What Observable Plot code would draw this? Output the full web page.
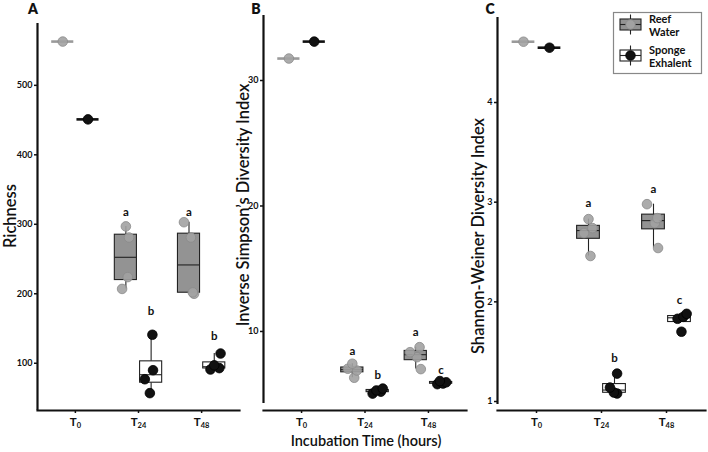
<!DOCTYPE html>
<html><head><meta charset="utf-8">
<script src="https://cdn.jsdelivr.net/npm/d3@7"></script>
<script src="https://cdn.jsdelivr.net/npm/@observablehq/plot@0.6"></script>
<style>
body{margin:0;background:#fff;}
#wrap{position:relative;width:708px;height:452px;font-family:Lato,"Open Sans",sans-serif;overflow:hidden;}
.panel{position:absolute;top:0;}
#xtitle{position:absolute;left:236px;width:260px;top:432px;text-align:center;font:600 14.5px Lato,"Open Sans",sans-serif;color:#111;line-height:17px;}
</style></head><body><div id="wrap"></div>
<script>
// ---------- categories ----------
const timeLabels = ["T0", "T24", "T48"];
const timeSubscripts = ["0", "24", "48"];
const groupNames = ["Reef Water", "Sponge Exhalent"];

// ---------- A: Richness ----------
const richnessReef   = [[563], [207, 224, 281, 297], [200, 202, 281, 303]];
const richnessSponge = [[451], [57, 77, 90, 141], [91, 93, 97, 114]];
const richnessReefJitter   = [[0], [-0.06, 0.03, 0.05, 0], [0.08, 0.06, 0.03, -0.08]];
const richnessSpongeJitter = [[0], [-0.02, -0.1, 0.03, 0.02], [-0.06, 0.08, 0, 0.1]];
const richnessReefLetters   = ["", "a", "a"];
const richnessReefLetterY   = [null, 317, 317];
const richnessSpongeLetters = ["", "b", "b"];
const richnessSpongeLetterY = [null, 175, 139];
const richnessTicks = [100, 200, 300, 400, 500];
const richnessDomain = [32, 589];

// ---------- B: Inverse Simpson ----------
const invSimpsonReef   = [[31.75], [6.31, 6.89, 7.03, 7.43], [7.0, 7.95, 8.35, 8.75]];
const invSimpsonSponge = [[33.1], [5.05, 5.2, 5.3, 5.45], [5.8, 5.85, 5.95, 6.05]];
const invSimpsonReefJitter   = [[0], [0.03, 0.07, -0.07, 0], [0.08, 0.02, -0.09, 0.06]];
const invSimpsonSpongeJitter = [[0], [-0.08, 0.05, -0.02, 0.08], [-0.06, 0.03, 0.08, -0.02]];
const invSimpsonReefLetters   = ["", "a", "a"];
const invSimpsonReefLetterY   = [null, 8.4, 9.95];
const invSimpsonSpongeLetters = ["", "b", "c"];
const invSimpsonSpongeLetterY = [null, 6.5, 6.9];
const invSimpsonTicks = [10, 20, 30];
const invSimpsonDomain = [4.26, 35.18];

// ---------- C: Shannon-Weiner ----------
const shannonReef   = [[4.61], [2.46, 2.69, 2.74, 2.83], [2.54, 2.79, 2.84, 2.98]];
const shannonSponge = [[4.55], [1.08, 1.09, 1.14, 1.28], [1.70, 1.83, 1.85, 1.88]];
const shannonReefJitter   = [[0], [0.03, -0.07, 0.06, 0], [0.07, 0.02, 0.06, -0.1]];
const shannonSpongeJitter = [[0], [0.04, -0.01, -0.07, 0.04], [0.03, -0.03, 0.06, 0.11]];
const shannonReefLetters   = ["", "a", "a"];
const shannonReefLetterY   = [null, 2.99, 3.13];
const shannonSpongeLetters = ["", "b", "c"];
const shannonSpongeLetterY = [null, 1.43, 2.02];
const shannonTicks = [1, 2, 3, 4];
const shannonDomain = [0.97, 4.853];

// ---------- styles ----------
const REEF_BOX = "#939393", REEF_PT = "#a2a2a2", REEF_PT_STROKE = "#8a8a8a";
const SPONGE_BOX = "#ffffff", SPONGE_PT = "#111111";
const DODGE = 0.2, HALF = 0.175;
const FONT = "Lato, 'Open Sans', sans-serif";

function build(reef, sponge, reefJit, spongeJit, rL, rLY, sL, sLY) {
  const pts = [], boxes = [], letters = [];
  [[reef, reefJit, rL, rLY, 0], [sponge, spongeJit, sL, sLY, 1]].forEach(([arr, jit, L, LY, gi]) => {
    arr.forEach((vals, ti) => {
      const cx = ti + 1 + (gi === 0 ? -DODGE : DODGE);
      vals.forEach((v, k) => pts.push({g: gi, x: cx + jit[ti][k], v}));
      const s = vals.slice().sort(d3.ascending);
      const q1 = d3.quantile(s, 0.25), med = d3.quantile(s, 0.5), q3 = d3.quantile(s, 0.75);
      const iqr = q3 - q1;
      const lo = d3.min(s.filter(v => v >= q1 - 1.5 * iqr));
      const hi = d3.max(s.filter(v => v <= q3 + 1.5 * iqr));
      boxes.push({g: gi, x: cx, x1: cx - HALF, x2: cx + HALF, q1, med, q3, lo, hi, n: s.length});
      if (L[ti]) letters.push({x: cx, y: LY[ti], t: L[ti]});
    });
  });
  return {pts, boxes, letters};
}

function makePanel(o) {
  const {pts, boxes, letters} = build(...o.data);
  const multi = boxes.filter(b => b.n > 1), single = boxes.filter(b => b.n === 1);
  const svg = Plot.plot({
    width: o.width, height: 452,
    marginLeft: o.ml, marginRight: o.mr, marginTop: 0, marginBottom: 42,
    style: {fontFamily: FONT, color: "#111", background: "transparent", overflow: "visible"},
    x: {domain: [0.4, 3.6], axis: null},
    y: {domain: o.domain, range: o.yrange, axis: null},
    color: {type: "identity"},
    marks: [
      Plot.ruleX(multi, {x: "x", y1: "lo", y2: "q1", stroke: "#222", strokeWidth: 1.1}),
      Plot.ruleX(multi, {x: "x", y1: "q3", y2: "hi", stroke: "#222", strokeWidth: 1.1}),
      Plot.rect(multi, {x1: "x1", x2: "x2", y1: "q1", y2: "q3", fill: d => d.g === 0 ? REEF_BOX : SPONGE_BOX, stroke: "#222", strokeWidth: 1.1}),
      Plot.ruleY(multi, {x1: "x1", x2: "x2", y: "med", stroke: "#222", strokeWidth: 1.1}),
      Plot.ruleY(single, {x1: "x1", x2: "x2", y: "med", stroke: d => d.g === 0 ? "#9a9a9a" : "#111", strokeWidth: 2.6}),
      Plot.dot(pts, {x: "x", y: "v", r: 4.8, fill: d => d.g === 0 ? REEF_PT : SPONGE_PT,
        stroke: d => d.g === 0 ? REEF_PT_STROKE : "#000", strokeWidth: 0.8, fillOpacity: d => d.g === 0 ? 0.9 : 1}),
      Plot.text(letters, {x: "x", y: "y", text: "t", fontWeight: "bold", fontSize: 11.5, fill: "#111"}),
      Plot.ruleX([0.4], {y1: o.domain[0], y2: o.domain[1], strokeWidth: 2.2, stroke: "#111"}),
      Plot.frame({anchor: "bottom", strokeWidth: 2.2, stroke: "#111"}),
      Plot.axisY({ticks: o.ticks, tickFormat: d3.format("d"), tickSize: 3, tickPadding: 2, fontSize: 9, fontWeight: "bold", label: null, strokeWidth: 1.5}),
      Plot.axisX({ticks: [1, 2, 3], tickFormat: i => timeLabels[i - 1], tickSize: 3, tickPadding: 4, fontSize: 11.5, fontWeight: "bold", label: null, strokeWidth: 1.5})
    ]
  });
  // subscript tick labels
  d3.select(svg).selectAll('g[aria-label="x-axis tick label"] text').each(function() {
    const t = d3.select(this);
    const idx = timeLabels.indexOf(t.text());
    t.text(null);
    t.append("tspan").text("T");
    t.append("tspan").attr("dy", "0.3em").attr("font-size", 7.5).text(timeSubscripts[idx]);
  });
  const s = d3.select(svg);
  s.append("text").attr("transform", `translate(${o.titleX},${o.titleY}) rotate(-90)`)
    .attr("text-anchor", "middle")
    .attr("font-family", FONT).attr("font-weight", 600).attr("font-size", 16.5).attr("fill", "#111")
    .text(o.title);
  s.append("text").attr("x", o.letterX).attr("y", 8).attr("text-anchor", "middle").attr("dominant-baseline", "central")
    .attr("font-family", FONT).attr("font-weight", 800).attr("font-size", 14).attr("fill", "#111").text(o.letter);
  const div = document.createElement("div");
  div.className = "panel";
  div.style.left = o.left + "px";
  div.style.width = o.width + "px";
  div.appendChild(svg);
  return div;
}

const wrap = document.getElementById("wrap");
wrap.appendChild(makePanel({
  left: 0, width: 242, ml: 37, mr: 3, yrange: [410, 23], domain: richnessDomain, ticks: richnessTicks,
  data: [richnessReef, richnessSponge, richnessReefJitter, richnessSpongeJitter, richnessReefLetters, richnessReefLetterY, richnessSpongeLetters, richnessSpongeLetterY],
  title: "Richness", titleX: 16, titleY: 216, letter: "A", letterX: 33
}));
wrap.appendChild(makePanel({
  left: 236, width: 236, ml: 27, mr: 6, yrange: [403, 15], domain: invSimpsonDomain, ticks: invSimpsonTicks,
  data: [invSimpsonReef, invSimpsonSponge, invSimpsonReefJitter, invSimpsonSpongeJitter, invSimpsonReefLetters, invSimpsonReefLetterY, invSimpsonSpongeLetters, invSimpsonSpongeLetterY],
  title: "Inverse Simpson\u2019s Diversity Index", titleX: 13, titleY: 205, letter: "B", letterX: 20
}));
wrap.appendChild(makePanel({
  left: 470, width: 238, ml: 27, mr: 3, yrange: [404, 17], domain: shannonDomain, ticks: shannonTicks,
  data: [shannonReef, shannonSponge, shannonReefJitter, shannonSpongeJitter, shannonReefLetters, shannonReefLetterY, shannonSpongeLetters, shannonSpongeLetterY],
  title: "Shannon-Weiner Diversity Index", titleX: 14, titleY: 236, letter: "C", letterX: 20
}));

// x-axis title
const xt = document.createElement("div");
xt.id = "xtitle"; xt.textContent = "Incubation Time (hours)";
wrap.appendChild(xt);

// legend
const leg = d3.create("svg").attr("width", 95).attr("height", 68)
  .style("position", "absolute").style("left", "610px").style("top", "10px");
leg.append("rect").attr("x", 3.5).attr("y", 2.5).attr("width", 88).attr("height", 61)
  .attr("fill", "white").attr("stroke", "#888").attr("stroke-width", 1.2);
const legRows = [
  {name: groupNames[0].split(" "), box: REEF_BOX, pt: REEF_PT, ptStroke: REEF_PT_STROKE, cy: 14.5},
  {name: groupNames[1].split(" "), box: SPONGE_BOX, pt: SPONGE_PT, ptStroke: "#000", cy: 45.5}
];
legRows.forEach(r => {
  const g = leg.append("g");
  g.append("line").attr("x1", 20.5).attr("x2", 20.5).attr("y1", r.cy - 10).attr("y2", r.cy + 10).attr("stroke", "#222").attr("stroke-width", 1.1);
  g.append("rect").attr("x", 10).attr("y", r.cy - 5.5).attr("width", 21).attr("height", 11).attr("fill", r.box).attr("stroke", "#222").attr("stroke-width", 1.1);
  g.append("line").attr("x1", 10).attr("x2", 31).attr("y1", r.cy).attr("y2", r.cy).attr("stroke", "#222").attr("stroke-width", 1.1);
  g.append("circle").attr("cx", 20.5).attr("cy", r.cy).attr("r", 4.8).attr("fill", r.pt).attr("stroke", r.ptStroke).attr("stroke-width", 0.8);
  const t = g.append("text").attr("font-family", FONT).attr("font-weight", "bold").attr("font-size", 11).attr("fill", "#111");
  t.append("tspan").attr("x", 39).attr("y", r.cy - 2).text(r.name[0]);
  t.append("tspan").attr("x", 39).attr("dy", 13.5).text(r.name[1]);
});
wrap.appendChild(leg.node());
</script></body></html>
